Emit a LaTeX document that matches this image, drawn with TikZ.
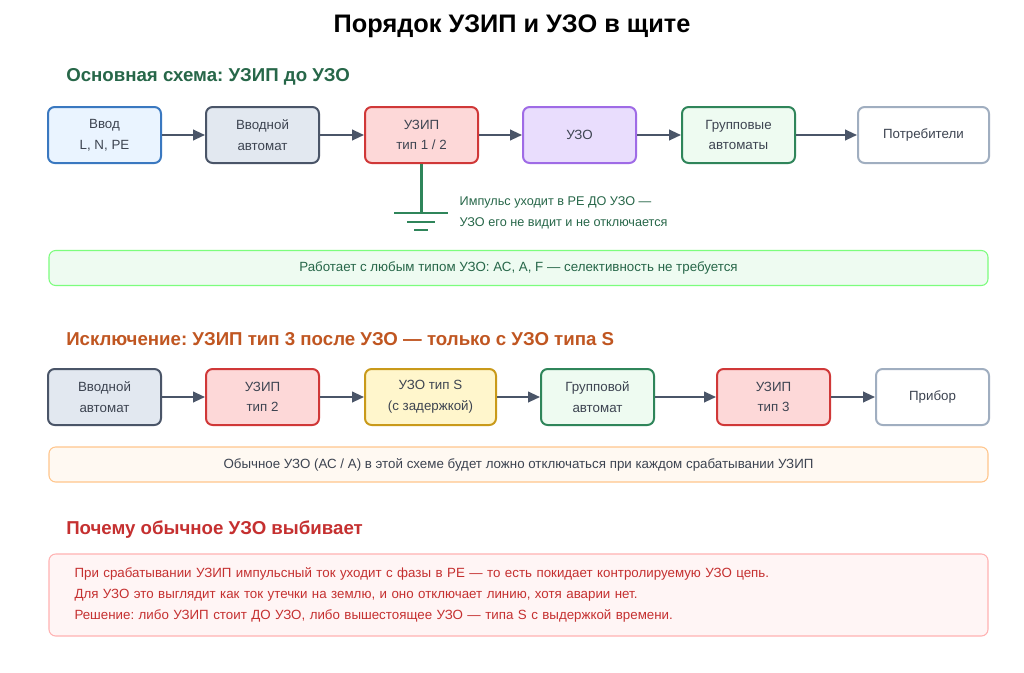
\documentclass[tikz,border=0pt]{standalone}
\usepackage{fontspec}
\setmainfont{Liberation Sans}
\frenchspacing
\usetikzlibrary{positioning,arrows.meta}
\definecolor{txt}{HTML}{3D4451}
\definecolor{bluef}{HTML}{EAF4FF}\definecolor{blued}{HTML}{3A78C0}
\definecolor{grayf}{HTML}{E2E8F0}\definecolor{grayd}{HTML}{4A5568}
\definecolor{redf}{HTML}{FDD8D8}\definecolor{redd}{HTML}{D03838}
\definecolor{purf}{HTML}{E9DDFD}\definecolor{purd}{HTML}{9F6BE6}
\definecolor{grnf}{HTML}{EEFBF1}\definecolor{grnd}{HTML}{2F855A}
\definecolor{litd}{HTML}{A0AEC0}
\definecolor{yelf}{HTML}{FFF6CC}\definecolor{yeld}{HTML}{C99A1A}
\definecolor{headg}{HTML}{276749}\definecolor{heado}{HTML}{C05621}\definecolor{headr}{HTML}{C53030}
\tikzset{
  blk/.style={draw, line width=1.5pt, rounded corners=5pt, minimum width=84.75pt,
    minimum height=42pt, align=center, text=txt, font=\fontsize{10}{15.5}\selectfont},
  wide/.style={minimum width=98.25pt},
  flow/.style={-{Triangle[length=9pt,width=8pt]}, line width=1.5pt, color=grayd},
  head/.style={anchor=west, inner sep=0pt, font=\fontsize{14}{16}\selectfont\bfseries},
  note/.style={draw, line width=0.8pt, rounded corners=5pt, minimum width=704.25pt,
    minimum height=26.25pt, font=\fontsize{10}{12}\selectfont}
}
\begin{document}
\begin{tikzpicture}[x=0.75pt,y=-0.75pt]
\useasboundingbox (0,0) rectangle (1024,672);
\fill[white] (0,0) rectangle (1024,672);
\node[font=\fontsize{19}{22}\selectfont\bfseries] (title) at (512,26) {Порядок УЗИП и УЗО в щите};

%main scheme
\node[head, text=headg] (h1) at (66,77) {Основная схема: УЗИП до УЗО};
\node[blk, fill=bluef, draw=blued] (vvod) at (104.5,135) {Ввод\\L, N, PE};
\node[blk, fill=grayf, draw=grayd] (avt) at (262.5,135) {Вводной\\автомат};
\node[blk, fill=redf, draw=redd] (uzip) at (421.5,135) {УЗИП\\тип 1 / 2};
\node[blk, fill=purf, draw=purd] (uzo) at (579.5,135) {УЗО};
\node[blk, fill=grnf, draw=grnd] (grp) at (738.5,135) {Групповые\\автоматы};
\node[blk, wide, fill=white, draw=litd] (potr) at (923.5,135) {Потребители};
\foreach \a/\b in {vvod/avt, avt/uzip, uzip/uzo, uzo/grp, grp/potr}
  \draw[flow] (\a) -- (\b);

%ground
\coordinate (gnd) at (421.5,213);
\draw[grnd, line width=2pt] (uzip.south) -- (gnd);
\draw[grnd, line width=2pt] (394,213) -- (448,213) (407,222) -- (435,222) (414,230) -- (428,230);
\node[anchor=west, text=headg, align=left, font=\fontsize{9.5}{15.5}\selectfont] (imp) at (455,213)
  {Импульс уходит в PE ДО УЗО —\\УЗО его не видит и не отключается};
\node[note, fill=grnf, draw=green!35!grnf!80!green, text=headg] (n1) at (518.5,268)
  {Работает с любым типом УЗО: АС, А, F — селективность не требуется};

%exception
\node[head, text=heado] (h2) at (66,339) {Исключение: УЗИП тип 3 после УЗО — только с УЗО типа S};
\node[blk, fill=grayf, draw=grayd] (avt2) at (104.5,397) {Вводной\\автомат};
\node[blk, fill=redf, draw=redd] (uzip2) at (262.5,397) {УЗИП\\тип 2};
\node[blk, wide, fill=yelf, draw=yeld] (uzoS) at (430.5,397) {УЗО тип S\\(с задержкой)};
\node[blk, fill=grnf, draw=grnd] (grp2) at (597.5,397) {Групповой\\автомат};
\node[blk, fill=redf, draw=redd] (uzip3) at (773.5,397) {УЗИП\\тип 3};
\node[blk, fill=white, draw=litd] (prib) at (932.5,397) {Прибор};
\foreach \a/\b in {avt2/uzip2, uzip2/uzoS, uzoS/grp2, grp2/uzip3, uzip3/prib}
  \draw[flow] (\a) -- (\b);
\node[note, fill=orange!5, draw=orange!45, text=txt] (n2) at (518.5,464.5)
  {Обычное УЗО (АС / А) в этой схеме будет ложно отключаться при каждом срабатывании УЗИП};

%why
\node[head, text=headr] (h3) at (66,530) {Почему обычное УЗО выбивает};
\node[note, minimum height=61.5pt, fill=red!4, draw=red!30, text=headr, align=left,
  inner xsep=18pt, text width=666pt, font=\fontsize{10}{15.5}\selectfont] (why) at (518.5,595)
  {При срабатывании УЗИП импульсный ток уходит с фазы в PE — то есть покидает контролируемую УЗО цепь.\\
   Для УЗО это выглядит как ток утечки на землю, и оно отключает линию, хотя аварии нет.\\
   Решение: либо УЗИП стоит ДО УЗО, либо вышестоящее УЗО — типа S с выдержкой времени.};
\end{tikzpicture}
\end{document}
